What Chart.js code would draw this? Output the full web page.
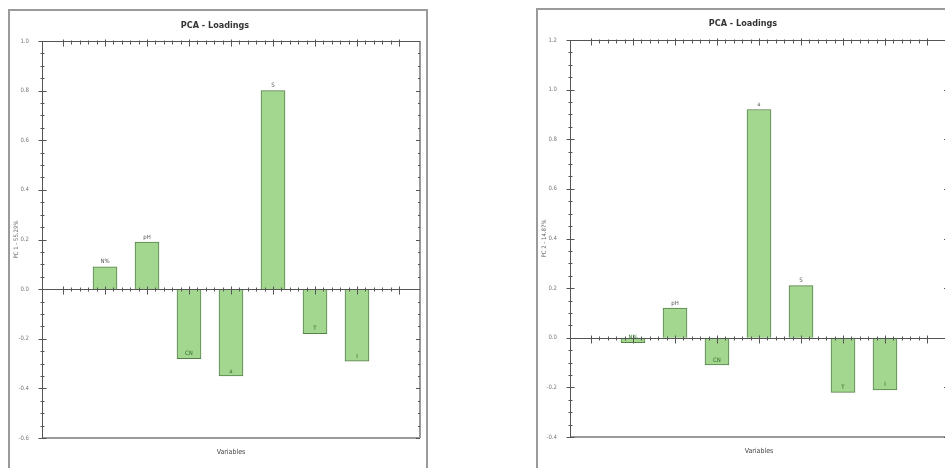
<!DOCTYPE html>
<html>
<head>
<meta charset="utf-8">
<script src="https://cdn.jsdelivr.net/npm/chart.js@4/dist/chart.umd.min.js"></script>
<style>
body { margin: 0; width: 945px; height: 468px; overflow: hidden; background: #fff; position: relative; }
.panel { position: absolute; border: 2px solid #9a9a9a; width: 416px; height: 470px; }
#panel1 { left: 8px; top: 9px; }
#panel2 { left: 536px; top: 8px; }
</style>
</head>
<body>
<div class="panel" id="panel1"><canvas id="pc1Chart" width="416" height="470"></canvas></div>
<div class="panel" id="panel2"><canvas id="pc2Chart" width="416" height="470"></canvas></div>
<script>
const variables = ['N%', 'pH', 'CN', 'a', 'S', 'T', 'I'];
const positions = [1, 2, 3, 4, 5, 6, 7];
const pc1Loadings = [0.09, 0.19, -0.28, -0.35, 0.80, -0.18, -0.29];
const pc2Loadings = [-0.02, 0.12, -0.11, 0.92, 0.21, -0.22, -0.21];
const pc1Range = [-0.6, 1.0];
const pc2Range = [-0.4, 1.2];
const xRange = [0, 8];
const yStep = 0.2;

const narrow = "'Liberation Sans Narrow', 'DejaVu Sans Condensed', sans-serif";

// ruler style axes, zero line and bar labels
const rulerPlugin = {
    id: 'ruler',
    afterDatasetsDraw(chart) {
        const { ctx, chartArea: a, scales: { x, y } } = chart;
        const line = (x1, y1, x2, y2) => {
            ctx.beginPath();
            ctx.moveTo(x1, y1);
            ctx.lineTo(x2, y2);
            ctx.stroke();
        };
        ctx.save();
        ctx.strokeStyle = '#9a9a9a';
        ctx.lineWidth = 2;
        line(a.left, a.bottom, a.right, a.bottom);
        line(a.right, a.top, a.right, a.bottom);

        ctx.strokeStyle = '#555';
        ctx.lineWidth = 1;
        const y0 = Math.round(y.getPixelForValue(0)) + 0.5;
        const top = Math.round(a.top) + 0.5;
        const left = Math.round(a.left) + 0.5;
        line(a.left, top, a.right, top);
        line(a.left, y0, a.right, y0);
        line(left, a.top, left, a.bottom);

        for (let v = x.min; v <= x.max + 1e-9; v += 0.2) {
            const major = Math.abs(v - Math.round(v)) < 1e-6;
            const px = Math.round(x.getPixelForValue(v)) + 0.5;
            line(px, top - (major ? 2 : 1), px, top + (major ? 5 : 3));
            line(px, y0 - (major ? 3 : 2), px, y0 + (major ? 5 : 2));
        }
        for (let v = y.min; v <= y.max + 1e-9; v += 0.05) {
            const major = Math.abs(v / yStep - Math.round(v / yStep)) < 1e-6;
            const py = Math.round(y.getPixelForValue(v)) + 0.5;
            line(left - (major ? 4 : 2), py, left + (major ? 4 : 2), py);
            line(a.right - (major ? 4 : 2), py, a.right, py);
        }

        ctx.font = '6px ' + narrow;
        ctx.textAlign = 'center';
        ctx.textBaseline = 'bottom';
        chart.getDatasetMeta(0).data.forEach((bar, i) => {
            const val = chart.data.datasets[0].data[i].y;
            ctx.fillStyle = val >= 0 ? '#555' : '#2f6b2a';
            ctx.fillText(variables[i], bar.x, bar.y - 2);
        });
        ctx.restore();
    }
};

const createChart = (id, loadings, range, yTitle, titlePad) => {
    const ctx = document.getElementById(id).getContext('2d');
    return new Chart(ctx, {
        type: 'bar',
        data: {
            datasets: [{
                data: positions.map((p, i) => ({ x: p, y: loadings[i] })),
                backgroundColor: '#a3d68f',
                borderColor: '#55804a',
                borderWidth: 1,
                barThickness: 24
            }]
        },
        options: {
            responsive: false,
            animation: false,
            layout: { padding: { left: 0, right: 6, top: 0, bottom: 0 } },
            plugins: {
                legend: { display: false },
                tooltip: { enabled: false },
                title: {
                    display: true,
                    text: 'PCA - Loadings',
                    color: '#333',
                    font: { family: narrow, size: 9, weight: 'bold' },
                    padding: { top: titlePad, bottom: 30 - 10.8 - titlePad }
                }
            },
            scales: {
                x: {
                    type: 'linear',
                    min: xRange[0],
                    max: xRange[1],
                    grid: { display: false },
                    border: { display: false },
                    ticks: { display: false },
                    title: {
                        display: true,
                        text: 'Variables',
                        color: '#444',
                        font: { family: narrow, size: 7 },
                        padding: { top: 0, bottom: 25 }
                    },
                    afterFit: s => { s.height = 43; }
                },
                y: {
                    min: range[0],
                    max: range[1],
                    grid: { display: false },
                    border: { display: false },
                    ticks: {
                        stepSize: yStep,
                        color: '#777',
                        padding: 5,
                        font: { family: narrow, size: 6 },
                        callback: v => v.toFixed(1)
                    },
                    title: {
                        display: true,
                        text: yTitle,
                        color: '#666',
                        font: { family: narrow, size: 6 },
                        padding: { top: 3, bottom: 0 }
                    },
                    afterFit: s => { s.width = 32; }
                }
            }
        },
        plugins: [rulerPlugin]
    });
};

createChart('pc1Chart', pc1Loadings, pc1Range, 'PC 1 - 55.29%', 9.6);
createChart('pc2Chart', pc2Loadings, pc2Range, 'PC 2 - 14.87%', 8.6);
</script>
</body>
</html>
